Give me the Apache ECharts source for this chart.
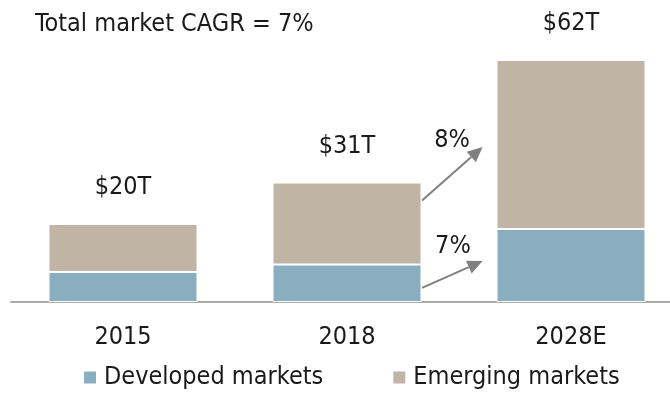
<!DOCTYPE html>
<html>
<head>
<meta charset="utf-8">
<script src="https://cdn.jsdelivr.net/npm/echarts@6/dist/echarts.min.js"></script>
<style>
html,body{margin:0;padding:0;background:#fff;}
#main{width:670px;height:400px;}
</style>
</head>
<body>
<div id="main"></div>
<script>
// data ($ trillions)
var years = ['2015', '2018', '2028E'];
var developed = [7.7, 9.6, 18.7];
var emerging = [12.3, 21.0, 43.3];
var totalLabels = ['$20T', '$31T', '$62T'];
// growth arrows: label, start, tip, label spot (category position, value)
var growthLabels = ['8%', '7%'];
var growthFrom = [[1.335, 26.0], [1.335, 3.6]];
var growthTo = [[1.605, 39.7], [1.605, 10.5]];
var growthText = [[1.469, 41.5], [1.473, 14.1]];

var FONT = "'Liberation Sans Narrow', 'DejaVu Sans Condensed', 'Roboto Condensed', sans-serif";
var TXT = '#1a1a1a';
var FS = 25;

var myChart = echarts.init(document.getElementById('main'));
myChart.setOption({
    animation: false,
    textStyle: {fontFamily: FONT, color: TXT},
    title: {
        text: 'Total market CAGR = 7%',
        left: 30, top: 7,
        textStyle: {fontFamily: FONT, fontSize: FS, fontWeight: 'normal', color: TXT}
    },
    legend: {
        bottom: 5, left: 77,
        itemWidth: 14, itemHeight: 14, itemGap: 68,
        icon: 'rect',
        textStyle: {fontFamily: FONT, fontSize: FS, color: TXT, padding: [0, 0, 0, 2]},
        data: ['Developed markets', 'Emerging markets']
    },
    grid: {left: 11, width: 672, top: 60, bottom: 98, containLabel: false, outerBoundsMode: 'none'},
    xAxis: {
        type: 'category',
        data: years,
        axisLine: {lineStyle: {color: '#aaaaaa', width: 2}},
        axisTick: {show: false},
        axisLabel: {fontFamily: FONT, fontSize: FS, color: TXT, margin: 23}
    },
    yAxis: {
        type: 'value', min: 0, max: 62,
        show: false,
        splitLine: {show: false}
    },
    series: [{
        name: 'Developed markets',
        type: 'bar', stack: 'total',
        barWidth: 149,
        itemStyle: {color: '#89aebf', borderColor: '#fff', borderWidth: 1},
        data: developed
    }, {
        name: 'Emerging markets',
        type: 'bar', stack: 'total',
        barWidth: 149,
        itemStyle: {color: '#c0b4a5', borderColor: '#fff', borderWidth: 1},
        label: {
            show: true, position: 'top', distance: 24,
            fontFamily: FONT, fontSize: FS, color: TXT,
            formatter: function (p) { return totalLabels[p.dataIndex]; }
        },
        data: emerging
    }]
});

// arrows between 2018 and 2028E
function toPx(pt) {
    var x0 = myChart.convertToPixel({xAxisIndex: 0}, 0);
    var x1 = myChart.convertToPixel({xAxisIndex: 0}, 1);
    var y = myChart.convertToPixel({yAxisIndex: 0}, pt[1]);
    return [x0 + (x1 - x0) * pt[0], y];
}
var graphics = [];
growthFrom.forEach(function (f, i) {
    var a = toPx(f), b = toPx(growthTo[i]), t = toPx(growthText[i]);
    var ang = Math.atan2(b[1] - a[1], b[0] - a[0]);
    var len = 15, half = 7;
    var bx = b[0] - len * Math.cos(ang), by = b[1] - len * Math.sin(ang);
    var nx = -Math.sin(ang), ny = Math.cos(ang);
    graphics.push({
        type: 'line',
        shape: {x1: a[0], y1: a[1], x2: bx, y2: by},
        style: {stroke: '#808080', lineWidth: 2}
    });
    graphics.push({
        type: 'polygon',
        shape: {points: [[b[0], b[1]], [bx + nx * half, by + ny * half], [bx - nx * half, by - ny * half]]},
        style: {fill: '#808080'}
    });
    graphics.push({
        type: 'text',
        x: t[0], y: t[1],
        style: {text: growthLabels[i], font: FS + 'px ' + FONT, fill: TXT, textAlign: 'center', textVerticalAlign: 'middle'}
    });
});
myChart.setOption({graphic: graphics});
</script>
</body>
</html>
